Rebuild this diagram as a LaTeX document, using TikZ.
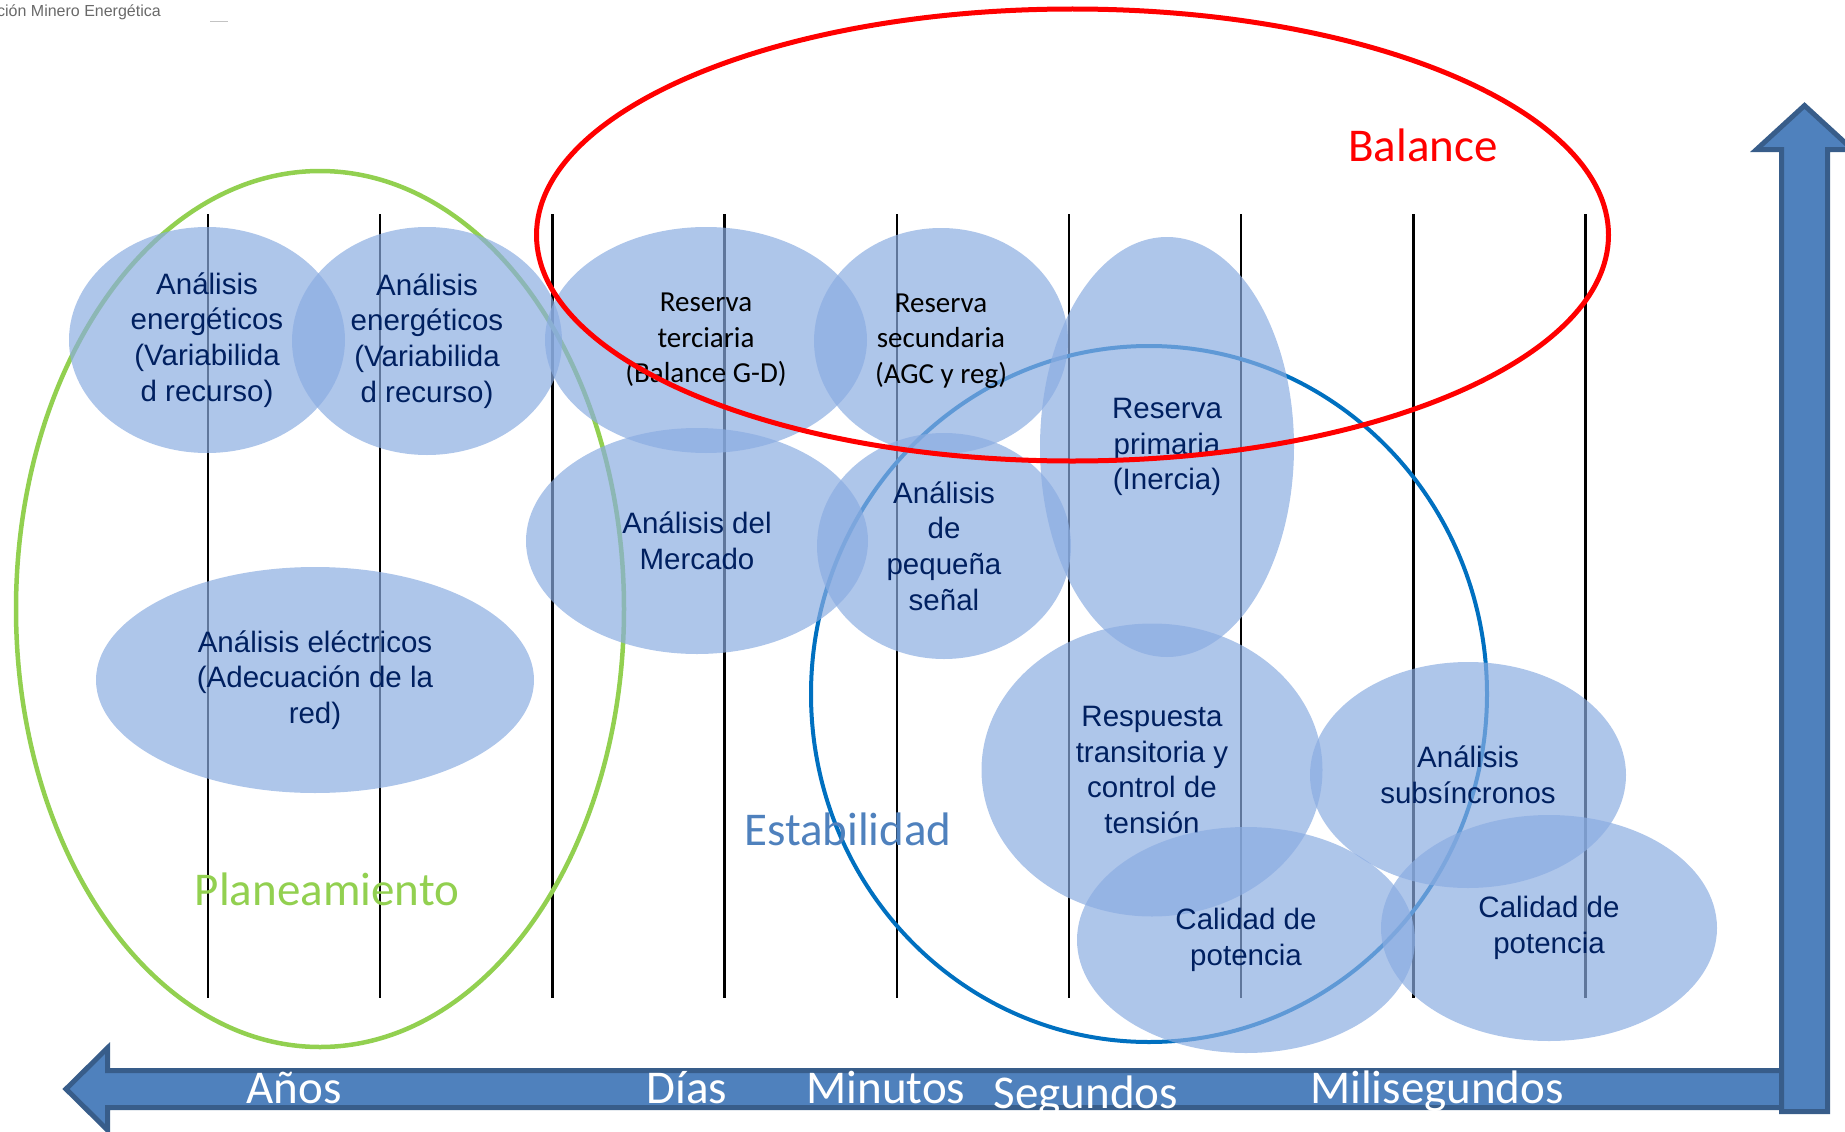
\documentclass[tikz,border=0pt]{standalone}
\usepackage{fontspec}
\usepackage{tikz}
\usetikzlibrary{shapes.geometric}
\newfontfamily\arialfont{Liberation Sans}
\newfontfamily\califont{Carlito}
\definecolor{mybubble}{RGB}{138, 172, 225}
\definecolor{mynavy}{RGB}{0, 32, 96}
\definecolor{mygreen}{RGB}{146, 208, 80}
\definecolor{myblue}{RGB}{0, 112, 192}
\definecolor{mysteel}{RGB}{79, 129, 189}
\definecolor{myarrowline}{RGB}{56, 93, 138}
\definecolor{mygray}{RGB}{105, 105, 105}
\tikzset{
  bubble/.style = {ellipse, fill = mybubble, fill opacity = 0.69, text opacity = 1, inner sep = 0pt,
                   align = center, text = mynavy, font = \arialfont\fontsize{29.5}{35.7}\selectfont},
  bubblecal/.style = {bubble, text = black, font = \califont\fontsize{29}{35.5}\selectfont},
  biglabel/.style = {anchor = base, font = \califont\fontsize{47}{50}\selectfont},
  axislabel/.style = {biglabel, text = white}
}

\begin{document}
\begin{tikzpicture}[x = 1pt, y = -1pt]
\useasboundingbox (0,0) rectangle (1845,1132);
\node[anchor = east, text = mygray, inner sep = 0pt, font = \arialfont\fontsize{16}{18}\selectfont] (source) at (161,12) {ción Minero Energética};
\draw[mygray!40] (210,21) -- (228,21);

% time columns
\foreach \i in {0,...,8}
  \draw[line width = 2.5pt] ({208 + 172.2*\i}, 214) -- ({208 + 172.2*\i}, 998);

\draw[mygreen, line width = 4.5pt] (320,609) ellipse [x radius = 304pt, y radius = 438pt];
\draw[myblue, line width = 4pt] (1149,694) ellipse [x radius = 338pt, y radius = 348pt];

% studies
\node[bubble, minimum width = 276pt, minimum height = 226pt] (anEnerA) at (207,340) {Análisis\\energéticos\\(Variabilida\\d recurso)};
\node[bubble, minimum width = 270pt, minimum height = 228pt] (anEnerB) at (427,341) {Análisis\\energéticos\\(Variabilida\\d recurso)};
\node[bubblecal, minimum width = 322pt, minimum height = 226pt] (resTer) at (706,340) {Reserva\\terciaria\\(Balance G-D)};
\node[bubblecal, minimum width = 254pt, minimum height = 226pt] (resSec) at (941,341) {Reserva\\secundaria\\(AGC y reg)};
\node[bubble, minimum width = 254pt, minimum height = 420pt] (resPri) at (1167,447) {Reserva\\primaria\\(Inercia)};
\node[bubble, minimum width = 342pt, minimum height = 226pt] (anMerc) at (697,541) {Análisis del\\Mercado};
\node[bubble, minimum width = 254pt, minimum height = 226pt] (anPeq) at (944,546) {Análisis\\de\\pequeña\\señal};
\node[bubble, minimum width = 438pt, minimum height = 226pt] (anElec) at (315,680) {Análisis eléctricos\\(Adecuación de la\\red)};
\node[bubble, minimum width = 341pt, minimum height = 293pt] (respTran) at (1152,770) {Respuesta\\transitoria y\\control de\\tensión};
\node[bubble, minimum width = 316pt, minimum height = 226pt] (anSubs) at (1468,775) {Análisis\\subsíncronos};
\node[bubble, minimum width = 338pt, minimum height = 226pt] (calPotA) at (1246,940) {Calidad de\\potencia};
\node[bubble, minimum width = 336pt, minimum height = 226pt] (calPotB) at (1549,928) {Calidad de\\potencia};

\draw[red, line width = 5pt] (1072.5,235) ellipse [x radius = 536pt, y radius = 226pt];

\node[biglabel, text = red] (balance) at (1423,161) {Balance};
\node[biglabel, text = mysteel] (estab) at (848,845) {Estabilidad};
\node[biglabel, text = mygreen] (plan) at (327,905) {Planeamiento};

% axes
\filldraw[fill = mysteel, draw = myarrowline, line width = 5pt, line join = miter]
  (1782,1070.5) -- (107.5,1070.5) -- (107.5,1048) -- (66,1089) -- (107.5,1130) -- (107.5,1107.5) -- (1782,1107.5) -- cycle;
\filldraw[fill = mysteel, draw = myarrowline, line width = 5pt, line join = miter]
  (1781.5,1111.5) -- (1781.5,149.5) -- (1756.5,149.5) -- (1804.5,105.5) -- (1852.5,149.5) -- (1827.5,149.5) -- (1827.5,1111.5) -- cycle;

\node[axislabel] (anos) at (294,1103) {Años};
\node[axislabel] (dias) at (687,1103) {Días};
\node[axislabel] (minutos) at (886,1103) {Minutos};
\node[axislabel] (segundos) at (1086,1108) {Segundos};
\node[axislabel] (miliseg) at (1437,1103) {Milisegundos};
\end{tikzpicture}
\end{document}
